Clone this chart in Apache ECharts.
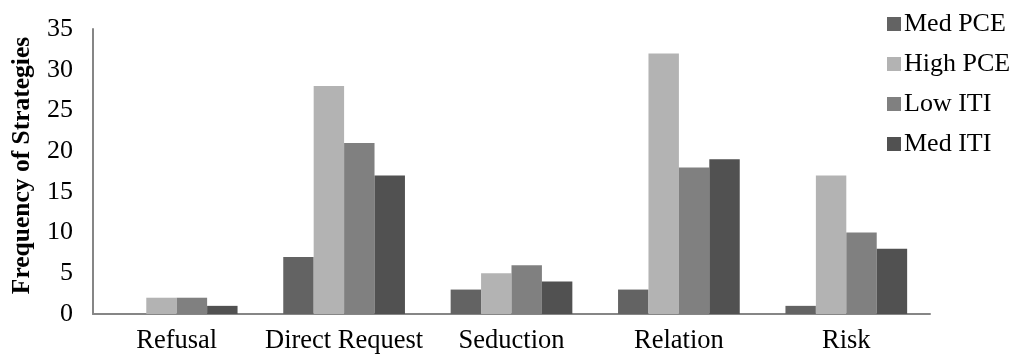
<!DOCTYPE html>
<html>
<head>
<meta charset="utf-8">
<script src="https://cdn.jsdelivr.net/npm/echarts@6/dist/echarts.min.js"></script>
<style>
  html, body { margin: 0; padding: 0; background: #fff; }
  #chart { width: 1018px; height: 360px; }
</style>
</head>
<body>
<div id="chart"></div>
<script>
// Strategy categories on the x axis
const categories = ['Refusal', 'Direct Request', 'Seduction', 'Relation', 'Risk'];

// Frequency of each strategy per group
const medPCE  = [0, 7, 3, 3, 1];
const highPCE = [2, 28, 5, 32, 17];
const lowITI  = [2, 21, 6, 18, 10];
const medITI  = [1, 17, 4, 19, 8];

const seriesNames = ['Med PCE', 'High PCE', 'Low ITI', 'Med ITI'];
const seriesData = [medPCE, highPCE, lowITI, medITI];
const seriesColors = ['#636363', '#b3b3b3', '#808080', '#515151'];

const FONT = '"Liberation Serif", "Times New Roman", serif';

const chart = echarts.init(document.getElementById('chart'), null, { renderer: 'canvas' });

chart.setOption({
  animation: false,
  backgroundColor: '#ffffff',
  textStyle: { fontFamily: FONT, color: '#000' },
  grid: { left: 93, right: 88, top: 29, bottom: 46, containLabel: false },
  legend: {
    orient: 'vertical',
    left: 882,
    top: 6,
    itemWidth: 14,
    itemHeight: 14,
    itemGap: 14,
    icon: 'rect',
    textStyle: { fontFamily: FONT, fontSize: 26, color: '#000', padding: [0, 0, 0, -2] },
    data: seriesNames
  },
  xAxis: {
    type: 'category',
    data: categories,
    axisLine: { show: true, lineStyle: { color: '#868686', width: 2 } },
    axisTick: { show: false },
    axisLabel: { fontFamily: FONT, fontSize: 26.5, color: '#000', margin: 14, interval: 0 },
    splitLine: { show: false }
  },
  yAxis: {
    type: 'value',
    min: 0,
    max: 35,
    interval: 5,
    name: 'Frequency of Strategies',
    nameLocation: 'middle',
    nameGap: 58,
    nameTextStyle: { fontFamily: FONT, fontSize: 25.5, fontWeight: 'bold', color: '#000', padding: [0, 0, 0, 12] },
    axisLine: { show: true, lineStyle: { color: '#868686', width: 2 } },
    axisTick: { show: false },
    axisLabel: { fontFamily: FONT, fontSize: 26, color: '#000', margin: 20 },
    splitLine: { show: false }
  },
  series: seriesNames.map((name, i) => ({
    name: name,
    type: 'bar',
    data: seriesData[i],
    barGap: '0%',
    barCategoryGap: '27.3%',
    itemStyle: { color: seriesColors[i] }
  }))
});
</script>
</body>
</html>
